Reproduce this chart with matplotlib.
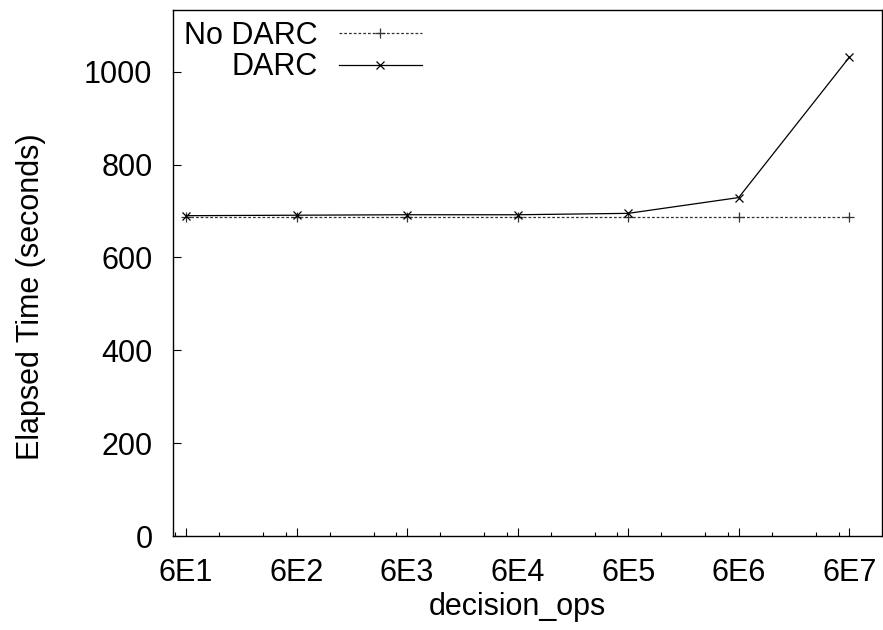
import matplotlib
matplotlib.use("Agg")
import matplotlib.pyplot as plt
from matplotlib.ticker import NullLocator

# decision_ops values on the x axis and their tick labels
decision_ops = [6e1, 6e2, 6e3, 6e4, 6e5, 6e6, 6e7]
tick_labels = ["6E1", "6E2", "6E3", "6E4", "6E5", "6E6", "6E7"]

# elapsed time (seconds)
no_darc = [688, 688, 688, 688, 688, 688, 688]
darc = [690, 691, 692, 692, 695, 729, 1031]

plt.rcParams["font.family"] = ["Liberation Sans", "DejaVu Sans"]
FS = 22

fig = plt.figure(figsize=(8.83, 6.3), dpi=100)
ax = fig.add_axes([0.1963, 0.1492, 0.8022, 0.8349])

ax.plot(decision_ops, no_darc, color="#333333", linestyle=(0, (2.2, 1.6)),
        linewidth=0.9, marker="+", markersize=7, markeredgewidth=0.9,
        label="No DARC")
ax.plot(decision_ops, darc, color="black", linestyle="-", linewidth=0.9,
        marker="x", markersize=6, markeredgewidth=0.9, label="DARC")

ax.set_xscale("log")
ax.set_xlim(46, 1.18e8)
ax.set_ylim(0, 1133)

ax.set_xticks(decision_ops)
ax.set_xticklabels(tick_labels)
minor = [48] + [v * m for v in decision_ops[:-1] for m in (2, 5, 8)]
ax.set_xticks(minor, minor=True)
ax.set_xticklabels([], minor=True)
ax.set_yticks([0, 200, 400, 600, 800, 1000])
ax.yaxis.set_minor_locator(NullLocator())

ax.tick_params(axis="both", which="major", direction="in", length=6,
               width=0.8, labelsize=FS, top=False, right=False)
ax.tick_params(axis="x", which="major", pad=16)
ax.tick_params(axis="y", which="major", pad=15)
ax.tick_params(axis="x", which="minor", direction="in", length=3,
               width=0.8, top=False)

for spine in ax.spines.values():
    spine.set_linewidth(1.0)

ax.set_xlabel("decision_ops", fontsize=FS)
ax.xaxis.set_label_coords(0.485, -0.107)
ax.set_ylabel("Elapsed Time (seconds)", fontsize=FS)
ax.yaxis.set_label_coords(-0.18, 0.455)

ax.legend(loc="upper left", frameon=False, markerfirst=False, numpoints=1,
          fontsize=FS, handlelength=2.7, handletextpad=0.7,
          labelspacing=0.05, borderaxespad=0.25, borderpad=0.1)

fig.savefig("out.png", dpi=100)
